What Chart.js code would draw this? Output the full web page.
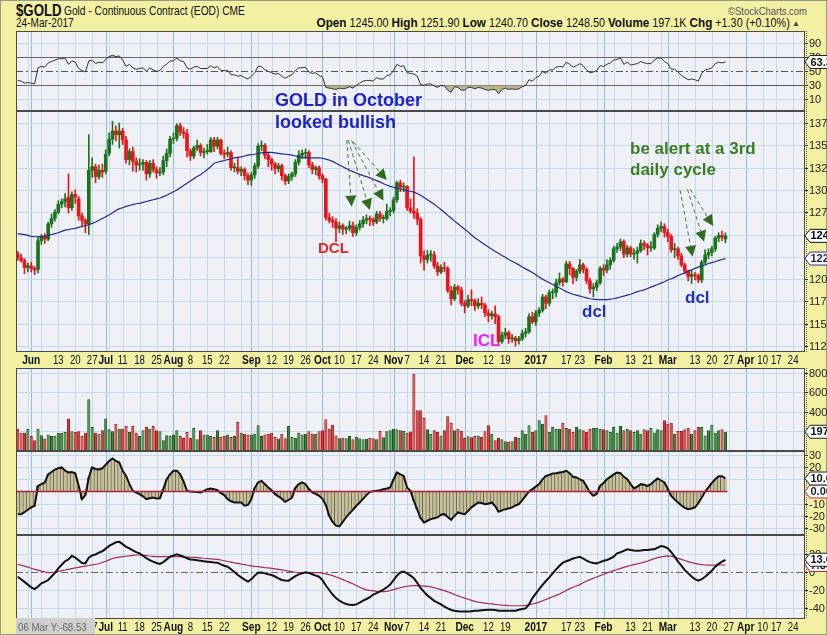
<!DOCTYPE html>
<html>
<head>
<meta charset="utf-8">
<script src="https://cdn.jsdelivr.net/npm/chart.js@4.4.1/dist/chart.umd.min.js"></script>
<style>
  body { margin: 0; width: 827px; height: 635px; overflow: hidden; position: relative; background: #f3efa3; box-shadow: inset 0 0 0 1px #9a9a80; }
  canvas { position: absolute; left: 0; }
  .t { position: absolute; white-space: nowrap; font-family: 'Liberation Sans', Arial, sans-serif; color: #111; transform-origin: 0 50%; }
  .n { position: absolute; white-space: nowrap; font-family: 'Liberation Sans', Arial, sans-serif; font-weight: bold; }
</style>
</head>
<body>
<canvas id="rsi" width="827" height="80" style="top:31px"></canvas>
<canvas id="price" width="827" height="257" style="top:111px"></canvas>
<canvas id="vol" width="827" height="83" style="top:368px"></canvas>
<canvas id="osc" width="827" height="84" style="top:451px"></canvas>
<canvas id="tsi" width="827" height="100" style="top:535px"></canvas>

<div class="t" style="left:16px;top:1px;font-size:17px;font-weight:bold;transform:scaleX(0.78);">$GOLD</div>
<div class="t" style="left:64px;top:4px;font-size:12px;transform:scaleX(0.85);">Gold - Continuous Contract (EOD) CME</div>
<div class="t" style="left:728px;top:5px;font-size:11px;color:#555;transform:scaleX(0.86);">&copy;StockCharts.com</div>
<div class="t" style="left:16px;top:16px;font-size:12px;transform:scaleX(0.84);">24-Mar-2017</div>
<div class="t" style="right:37px;top:15px;font-size:12px;transform:scaleX(0.9);transform-origin:100% 50%;"><b style="font-size:13px">Open</b> 1245.00 <b style="font-size:13px">High</b> 1251.90 <b style="font-size:13px">Low</b> 1240.70 <b style="font-size:13px">Close</b> 1248.50 <b style="font-size:13px">Volume</b> 197.1K <b style="font-size:13px">Chg</b> +1.30 (+0.10%)</div>
<div class="t" style="left:792px;top:19px;font-size:8px;color:#444;">&#9650;</div>

<div class="n" style="left:275px;top:90px;font-size:18px;color:#1f22c9;">GOLD in October</div>
<div class="n" style="left:275px;top:112px;font-size:18px;color:#1f22c9;">looked bullish</div>
<div class="n" style="left:318px;top:239px;font-size:15px;color:#e3262a;">DCL</div>
<div class="n" style="left:473px;top:331px;font-size:17px;color:#ee22ee;">ICL</div>
<div class="n" style="left:582px;top:302px;font-size:17px;color:#1f2fc0;">dcl</div>
<div class="n" style="left:685px;top:288px;font-size:17px;color:#1f2fc0;">dcl</div>
<div class="n" style="left:630px;top:139px;font-size:17px;color:#3b7d23;">be alert at a 3rd</div>
<div class="n" style="left:630px;top:160px;font-size:17px;color:#3b7d23;">daily cycle</div>

<div style="position:absolute;left:16px;top:618px;width:79px;height:16px;background:#cfcfcf;"></div>
<div class="t" style="left:18px;top:619px;font-size:11px;line-height:16px;color:#666;transform:scaleX(0.88);">06 Mar Y:-68.53</div>

<script>
// trading-day axis: 2016-05-25 onward, weekends and exchange holidays skipped
const holidays = ['2016-05-30', '2016-07-04', '2016-09-05', '2016-11-24', '2016-12-26',
                  '2017-01-02', '2017-01-16', '2017-02-20', '2017-04-14'];
const slotCount = 233;

const tickDates = ['2016-06-01', '2016-06-13', '2016-06-20', '2016-06-27', '2016-07-01', '2016-07-11', '2016-07-18', '2016-07-25',
  '2016-08-01', '2016-08-08', '2016-08-15', '2016-08-22', '2016-09-01', '2016-09-12', '2016-09-19', '2016-09-26',
  '2016-10-03', '2016-10-10', '2016-10-17', '2016-10-24', '2016-11-01', '2016-11-07', '2016-11-14', '2016-11-21',
  '2016-12-01', '2016-12-12', '2016-12-19', '2017-01-03', '2017-01-17', '2017-01-23', '2017-02-01', '2017-02-13',
  '2017-02-21', '2017-03-01', '2017-03-13', '2017-03-20', '2017-03-27', '2017-04-03', '2017-04-10', '2017-04-17', '2017-04-24'];
const tickLabels = ['Jun', '13', '20', '27', 'Jul', '11', '18', '25', 'Aug', '8', '15', '22', 'Sep', '12', '19', '26',
  'Oct', '10', '17', '24', 'Nov', '7', '14', '21', 'Dec', '12', '19', '2017', '17', '23', 'Feb', '13',
  '21', 'Mar', '13', '20', '27', 'Apr', '10', '17', '24'];

const opens = [1229,1224,1221,1213,1215,1212,1211,1243,1247,1245,
  1262,1268,1275,1284,1287,1292,1280,1295,1290,1271,
  1266,1262,1322,1326,1315,1322,1321,1341,1357,1366,
  1362,1366,1356,1334,1343,1332,1328,1329,1331,1318,
  1330,1323,1319,1320,1333,1341,1357,1358,1372,1365,
  1363,1344,1338,1347,1350,1342,1343,1343,1356,1349,
  1356,1341,1340,1342,1325,1325,1321,1323,1316,1311,
  1317,1327,1349,1350,1339,1334,1329,1324,1327,1316,
  1310,1315,1318,1331,1339,1341,1342,1328,1323,1325,
  1316,1312,1269,1266,1264,1257,1260,1256,1257,1260,
  1252,1258,1262,1266,1268,1267,1264,1273,1268,1268,
  1276,1277,1289,1308,1303,1304,1280,1276,1274,1267,
  1226,1222,1227,1227,1215,1208,1213,1212,1187,1178,
  1191,1188,1173,1170,1177,1176,1170,1173,1171,1162,
  1159,1161,1158,1130,1137,1140,1133,1134,1131,1133,
  1139,1141,1158,1152,1162,1165,1180,1173,1185,1185,
  1196,1200,1197,1217,1212,1202,1209,1216,1211,1198,
  1189,1191,1196,1212,1210,1216,1221,1234,1236,1242,
  1228,1235,1228,1229,1232,1240,1238,1235,1235,1250,
  1257,1259,1252,1248,1233,1234,1226,1216,1209,1203,
  1205,1204,1199,1219,1227,1230,1234,1246,1249,1245];
const highs = [1231,1228,1223,1218,1219,1214,1247,1250,1251,1264,
  1273,1278,1288,1290,1296,1318,1298,1300,1293,1274,
  1268,1362,1336,1329,1328,1329,1345,1364,1377,1372,
  1375,1369,1360,1346,1348,1336,1335,1334,1333,1333,
  1334,1326,1325,1338,1346,1360,1364,1374,1375,1370,
  1368,1346,1349,1356,1352,1347,1351,1359,1359,1359,
  1357,1345,1348,1344,1330,1336,1326,1325,1319,1320,
  1330,1352,1355,1352,1342,1336,1331,1330,1329,1318,
  1318,1320,1334,1344,1345,1346,1344,1331,1327,1327,
  1318,1313,1274,1270,1268,1264,1262,1259,1265,1264,
  1261,1266,1270,1272,1271,1269,1276,1276,1272,1284,
  1280,1292,1310,1311,1308,1305,1290,1337,1279,1269,
  1232,1232,1232,1231,1219,1216,1219,1214,1192,1194,
  1193,1191,1176,1182,1188,1178,1178,1180,1173,1166,
  1164,1170,1160,1141,1145,1142,1138,1136,1136,1143,
  1145,1161,1163,1165,1168,1183,1182,1188,1189,1200,
  1207,1202,1220,1220,1213,1211,1222,1218,1213,1201,
  1195,1199,1214,1216,1222,1224,1237,1240,1245,1244,
  1238,1237,1234,1236,1244,1243,1240,1242,1252,1261,
  1264,1262,1256,1250,1240,1236,1229,1218,1210,1210,
  1208,1206,1221,1233,1234,1237,1248,1252,1254,1251.9];
const lows = [1221,1219,1206,1208,1208,1205,1207,1239,1240,1243,
  1258,1265,1273,1280,1281,1274,1277,1285,1266,1260,
  1252,1250,1314,1308,1312,1314,1318,1338,1351,1355,
  1347,1351,1330,1328,1321,1320,1322,1322,1311,1314,
  1320,1313,1316,1317,1326,1337,1352,1355,1361,1358,
  1337,1333,1335,1344,1338,1336,1340,1342,1343,1346,
  1339,1335,1337,1322,1320,1318,1316,1311,1306,1305,
  1313,1324,1344,1335,1326,1322,1318,1320,1311,1306,
  1307,1311,1315,1328,1335,1335,1325,1318,1317,1312,
  1308,1266,1263,1258,1242,1252,1250,1251,1254,1248,
  1249,1255,1258,1262,1260,1260,1262,1265,1263,1266,
  1271,1274,1286,1298,1298,1277,1274,1268,1261,1218,
  1210,1218,1220,1212,1204,1206,1208,1185,1171,1176,
  1183,1170,1162,1168,1170,1165,1167,1167,1158,1152,
  1155,1150,1126,1128,1133,1128,1129,1125,1127,1131,
  1135,1139,1150,1148,1158,1163,1167,1170,1178,1180,
  1193,1192,1196,1205,1195,1198,1206,1207,1195,1184,
  1180,1187,1194,1204,1207,1211,1219,1230,1232,1224,
  1225,1225,1222,1218,1230,1233,1227,1231,1233,1247,
  1253,1247,1242,1230,1224,1222,1214,1206,1198,1195,
  1199,1196,1196,1217,1223,1226,1231,1242,1243,1240.7];
const closes = [1224,1221,1213,1215,1212,1210,1243,1247,1245,1262,
  1268,1275,1284,1287,1290,1280,1295,1292,1271,1266,
  1262,1322,1326,1315,1322,1320,1340,1357,1366,1362,
  1366,1356,1334,1343,1332,1328,1329,1331,1318,1330,
  1323,1319,1320,1333,1341,1357,1358,1372,1365,1363,
  1344,1338,1347,1350,1342,1343,1343,1356,1349,1356,
  1341,1340,1342,1325,1325,1321,1323,1316,1311,1317,
  1327,1349,1350,1339,1334,1329,1324,1327,1316,1310,
  1315,1318,1331,1339,1341,1342,1328,1323,1325,1316,
  1312,1269,1266,1264,1257,1260,1256,1257,1260,1252,
  1258,1262,1266,1268,1267,1264,1273,1268,1268,1276,
  1277,1289,1308,1303,1304,1280,1276,1274,1267,1226,
  1222,1227,1227,1215,1208,1213,1212,1187,1178,1191,
  1188,1173,1170,1177,1176,1170,1173,1171,1162,1159,
  1161,1158,1130,1137,1140,1133,1134,1131,1133,1139,
  1141,1158,1152,1162,1165,1180,1173,1185,1185,1196,
  1200,1197,1217,1212,1202,1209,1216,1211,1198,1189,
  1191,1196,1212,1210,1216,1221,1234,1236,1242,1228,
  1235,1228,1229,1232,1240,1238,1235,1235,1250,1257,
  1259,1252,1248,1233,1234,1226,1216,1209,1203,1205,
  1204,1199,1219,1227,1230,1234,1246,1249,1247.2,1248.5];
const ma50 = [1251,1250.5,1250,1249,1248,1247.5,1247.5,1248,1248,1249,
  1250,1251,1252,1253.5,1255,1255.5,1256.5,1257,1258,1259,
  1260,1261,1262.5,1264,1266,1268,1270,1272,1274.5,1277,
  1279,1280,1281.5,1282.5,1283.5,1284.5,1285,1286,1287,1288,
  1289,1290,1291,1292.5,1294,1296,1298,1300,1302.5,1305,
  1307.5,1310,1312.5,1315,1317,1320,1323,1326,1330,1331,
  1332,1333,1334,1335,1336,1336.5,1337,1338,1339,1339.5,
  1340,1341,1341.5,1342,1342,1342,1341.5,1341,1340.5,1340,
  1339.5,1339,1338,1337,1336.5,1336.5,1336,1336,1336,1336,
  1335.5,1334.5,1333.5,1332,1330,1328,1326,1324,1322,1320.5,
  1319,1317.5,1316,1315,1313.5,1312,1310.5,1309,1307,1305.5,
  1304,1303,1302,1301,1300,1299,1298.5,1297.5,1296,1294,
  1291.5,1289,1286.5,1284,1281,1278,1275,1271.5,1268.5,1265,
  1262,1259,1256,1253,1249.5,1246.5,1244,1241,1238.5,1236,
  1233.5,1231,1229,1226.5,1224.5,1222,1220,1218,1216,1213.5,
  1211.5,1209.5,1207.5,1205,1202.5,1200,1198,1196,1194,1192,
  1190,1188,1186,1184.5,1183,1182,1181,1180,1179,1178,
  1177.5,1177,1177,1177,1177,1177.5,1178,1179,1180,1181,
  1182,1183,1184.5,1186,1187,1188,1189.5,1191,1192.5,1194,
  1195.5,1197,1199,1200.5,1202,1204,1205.5,1207,1209,1210.5,
  1212,1213.5,1215,1216,1217.5,1218.5,1219.5,1221,1222,1223.07];
// volume in thousands
const volumes = [229,188,188,229,154,109,229,161,127,168,
  154,154,188,188,195,332,202,195,202,154,
  188,530,246,188,178,212,332,222,202,280,
  229,229,256,195,256,188,154,212,246,229,
  256,212,202,109,161,154,168,212,154,133,
  195,133,236,120,212,168,168,154,144,212,
  144,154,170,144,154,298,188,178,168,168,
  178,263,154,168,178,188,144,127,178,130,
  256,144,133,188,168,178,202,178,178,202,
  212,325,229,270,160,130,135,130,154,120,
  144,130,120,125,133,130,120,205,140,202,
  212,229,222,212,205,188,200,793,417,417,
  338,222,178,212,195,160,212,356,287,212,
  229,205,133,150,140,154,160,144,202,263,
  178,110,133,120,100,92,100,144,133,212,
  178,263,195,212,315,280,366,195,246,229,
  229,290,236,229,195,246,222,212,195,229,
  236,236,229,222,212,195,246,188,256,212,
  229,212,195,212,178,222,212,236,190,222,
  212,315,280,290,178,205,205,222,236,178,
  212,246,246,160,212,270,188,212,222,197.1];
const rsi14 = [37,36,33,34,33,32,55,57,56,62,
  64,66,68,68,69,60,65,63,54,51,
  49,65,66,61,63,62,67,71,73,71,
  72,66,57,60,55,53,54,55,50,55,
  52,50,51,57,60,65,65,69,65,64,
  55,53,56,57,54,54,54,58,55,57,
  51,51,51,45,45,43,44,41,39,43,
  48,57,57,52,50,48,46,47,43,40,
  43,45,51,55,55,56,49,47,48,44,
  42,27,26,25,24,26,25,26,28,26,
  30,33,36,37,37,36,41,39,39,44,
  45,51,60,57,58,48,47,46,43,31,
  30,32,32,29,27,30,29,23,20,28,
  27,23,23,27,27,25,27,26,24,23,
  24,24,18,24,26,24,25,24,25,28,
  30,38,36,41,43,50,47,52,52,56,
  57,56,63,60,56,58,61,58,52,48,
  49,51,58,57,60,62,66,67,69,60,
  63,59,60,61,64,62,61,61,66,69,
  69,64,61,53,53,49,44,41,38,39,
  38,36,47,52,53,55,61,63,62,63.34];
const osc = [-18.6,-18.6,-17,-15,-13,-11.7,4.6,6,7.4,14,
  16,18,19,19.7,17,15.6,16,15,4.6,-6.3,
  -3,11.5,19.7,18.5,18,19,22,25,27,25,
  23.8,17,12.8,6,0.5,-1,-2.2,-4,-6.3,-5.5,
  -5,-5.7,-5.5,1.9,10,14,17,17,14,8,
  0.5,0,-0.3,-0.5,-0.8,0.5,1.9,2.5,1.9,1,
  -1.4,-3,-6.3,-8,-9,-9,-9,-11.7,-11,-6.3,
  3,7.4,8.7,6,3.3,1,-2.2,-4,-6,-8.5,
  -7,-5,3,6,7.4,6,2,-0.8,-2,-3.6,
  -6,-11,-20,-25,-28,-28.7,-25,-21,-18,-15,
  -11.7,-9,-6,-3,-0.3,0.2,0.5,1,1.9,2.5,
  3.3,10,15.6,14,12.8,3,0.5,-7.7,-15,-22,
  -25.4,-24,-22.7,-22,-21.3,-19,-18.6,-21,-23.2,-20,
  -17.2,-18,-18.6,-16,-13,-11,-9,-9.5,-10.4,-10,
  -9,-12,-16.7,-15.5,-14.5,-14,-13,-11.5,-10.4,-7,
  -3.6,0,1.9,4,6,10,12.8,13.5,14.8,15,
  15.6,16,17,15,12,11.5,10,8.7,4,-0.8,
  -3.6,-2,4.6,7,10,12,14,15.6,15,12,
  10,6,2.5,4,6,5.5,4.6,6,8.5,10.7,
  9,7.4,2,-3.6,-6.5,-9,-11.5,-13.5,-14.5,-14,
  -13,-9.5,-5,0,3.3,7,10,12.5,12.5,10.63];
const tsi = [-5.2,-8,-11,-14,-17,-19,-16,-12.6,-11,-8.9,
  -5,-1,4,8,12,14,18,16,13,10,
  9.6,16,18.5,19.5,21.5,23,26,29,31,33,
  33.5,31,28,26.3,24,22,20.7,18,15.5,13.3,
  11.5,10,8.9,11,14,17,18.5,19.6,18.5,17,
  15.2,14,13.5,13,12.6,12,11.5,11,10.5,10.4,
  8.5,7,5.9,3,0,-3.3,-6,-8.5,-10.7,-8,
  -4,-0.7,-0.5,-1.5,-2.5,-3.3,-5,-7,-8.9,-9.5,
  -9.6,-7,-4.5,-2.6,-1.5,-0.4,-1,-2.5,-4,-5.2,
  -9,-15,-20,-25,-29,-31.9,-34,-35.5,-36.5,-36.7,
  -36,-34,-31.9,-30,-28,-25,-23.5,-21.5,-19.5,-17,
  -14,-9,-4,-0.5,0.4,-1.5,-4,-7,-12,-18,
  -22,-26,-29,-32,-34,-36,-38.5,-40.5,-42.2,-43,
  -43.5,-44,-44,-44,-43.5,-43,-43,-42.5,-42.2,-42,
  -42,-42.2,-43,-43,-43,-43,-43,-43,-42,-41,
  -40.4,-36,-29,-24,-19,-14.4,-10,-6,-1.5,3,
  7,10.4,12,13.3,15,16,17,15,12.6,11,
  10,9.6,11,12.5,13.3,15,17,20.7,22,23.5,
  25.2,24.5,24,23.7,24,24.5,24.5,25,25.2,27,
  28.9,28,26.3,22,17,11.5,7,2,-1.5,-5,
  -8,-9.6,-8,-5.2,-2,1.5,5.9,9,11.5,13.6];
const tsiSignal = [8.5,7.5,6.5,5.5,4.2,3,2,1,0,-0.7,
  -0.5,0,0.8,1.5,2.2,3,3.8,4.5,5.2,5.9,
  6.5,7.2,8,8.6,9.2,10.5,12,13.5,15,16,
  16.5,17,17.5,18,18.5,18.9,18.9,18.7,18.3,17.8,
  17.4,17,17,17,17,17,17,17,17,16.8,
  16.6,16.4,16.2,16,15.7,15.3,15,14.6,14.3,14,
  13.3,12.5,11.7,11,10.2,9.5,8.8,8.2,7.5,6.9,
  6.3,5.9,5.4,4.9,4.5,4,3.5,3,2.4,1.7,
  1,0.4,-0.3,-0.7,-0.7,-0.7,-0.7,-0.7,-0.7,-0.8,
  -1.2,-2,-3,-4,-5.5,-7,-8.5,-10,-11.5,-13,
  -15,-17,-18.5,-19.8,-20.5,-21,-21.5,-21.8,-21.9,-21.5,
  -20.5,-19.5,-18.5,-17.5,-16.5,-15.8,-15.3,-15.2,-15.2,-15.3,
  -15.6,-16,-16.5,-17.5,-18.5,-19.5,-20.7,-22,-23.5,-25,
  -26.5,-27.8,-29,-30.3,-31.5,-32.7,-33.5,-34,-34.6,-35.1,
  -35.5,-36,-36.4,-36.8,-37.1,-37.4,-37.5,-37.5,-37.5,-37.4,
  -37.2,-36.5,-35.5,-34.5,-33.5,-32,-30.5,-29,-27.5,-26,
  -24.5,-22.5,-20.5,-18.5,-17,-15.5,-14,-12,-10,-8.5,
  -7,-5.5,-4,-2.5,-1,0.2,1.5,2.8,4,5.2,
  6.2,7.2,8.2,9,10,11,12.2,13.5,14.8,16,
  16.8,17.4,17.8,17.5,16.5,15.2,14,12.8,11.6,10.5,
  9.5,8.7,8.2,7.8,7.6,7.6,7.7,7.8,7.8,7.8];

// hand-drawn arrows, [day, price]
const arrowStarts = [[97.2, 1355.9], [97.6, 1355.9], [98.6, 1355.2], [99.1, 1354], [195.6, 1299.9], [197.8, 1300.7], [198.6, 1300.7]];
const arrowEnds = [[98.6, 1281.2], [104.0, 1277.5], [108.0, 1287.9], [109.0, 1311.1], [199.3, 1225.1], [202.7, 1241.9], [205.4, 1259.5]];

const SANS = "'Liberation Sans', Arial, sans-serif";

function buildDays() {
  const out = [];
  const d = new Date(Date.UTC(2016, 4, 25));
  while (out.length < slotCount) {
    const wd = d.getUTCDay();
    const s = d.toISOString().slice(0, 10);
    if (wd !== 0 && wd !== 6 && !holidays.includes(s)) out.push(s);
    d.setUTCDate(d.getUTCDate() + 1);
  }
  return out;
}
const days = buildDays();

// 2 = first trading day of month, 1 = first trading day of week
const gridKind = days.map((s, i) => {
  if (i === 0) return 0;
  const a = new Date(days[i - 1] + 'T00:00:00Z'), b = new Date(s + 'T00:00:00Z');
  if (a.getUTCMonth() !== b.getUTCMonth()) return 2;
  if (b.getUTCDay() < a.getUTCDay()) return 1;
  return 0;
});

const upDay = closes.map((c, i) => c >= (i ? closes[i - 1] : opens[i]));
const candleColors = upDay.map(u => u ? '#1d731d' : '#e8161b');

const panelCfg = {};

function hline(ctx, x1, y1, x2, y2) {
  ctx.beginPath(); ctx.moveTo(x1, y1); ctx.lineTo(x2, y2); ctx.stroke();
}

// condensed text: squeeze horizontally around the anchor
function narrowText(ctx, text, x, y, sx) {
  ctx.save();
  ctx.translate(x, y);
  ctx.scale(sx, 1);
  ctx.fillText(text, 0, 0);
  ctx.restore();
}

function valueBox(ctx, y, text, stroke, color) {
  ctx.save();
  ctx.beginPath();
  ctx.moveTo(805, y); ctx.lineTo(810, y - 6.5); ctx.lineTo(832, y - 6.5); ctx.lineTo(832, y + 6.5); ctx.lineTo(810, y + 6.5);
  ctx.closePath();
  ctx.fillStyle = '#fff'; ctx.fill();
  ctx.strokeStyle = stroke; ctx.lineWidth = 1; ctx.stroke();
  ctx.fillStyle = color; ctx.font = 'bold 11px ' + SANS;
  ctx.textAlign = 'left'; ctx.textBaseline = 'middle';
  ctx.fillText(text, 810.5, y + 0.5);
  ctx.restore();
}

const panelPlugin = {
  id: 'panelDeco',
  beforeDraw(chart) {
    const { ctx, chartArea: a } = chart;
    ctx.save();
    ctx.fillStyle = '#eef0f6';
    ctx.fillRect(a.left, a.top, a.right - a.left, a.bottom - a.top);
    ctx.restore();
  },
  beforeDatasetsDraw(chart) {
    const cfg = panelCfg[chart.canvas.id];
    const { ctx, chartArea: a, scales: { x, y } } = chart;
    ctx.save();
    ctx.lineWidth = 1;
    gridKind.forEach((k, i) => {
      if (!k) return;
      const px = Math.round(x.getPixelForValue(i)) + 0.5;
      ctx.strokeStyle = k === 2 ? '#8fbde0' : '#c4dbec';
      hline(ctx, px, a.top, px, a.bottom);
    });
    ctx.strokeStyle = '#c4dbec';
    cfg.grid.forEach(v => {
      const py = Math.round(y.getPixelForValue(v)) + 0.5;
      hline(ctx, a.left, py, a.right, py);
    });
    (cfg.refsUnder || []).forEach(r => {
      const py = Math.round(y.getPixelForValue(r.v)) + 0.5;
      ctx.strokeStyle = r.color; ctx.lineWidth = r.width || 1;
      ctx.setLineDash(r.dash || []);
      hline(ctx, a.left, py, a.right, py);
    });
    ctx.restore();
  },
  afterDatasetsDraw(chart) {
    const cfg = panelCfg[chart.canvas.id];
    const { ctx, chartArea: a, scales: { x, y } } = chart;
    ctx.save();
    (cfg.refsOver || []).forEach(r => {
      const py = y.getPixelForValue(r.v);
      ctx.strokeStyle = r.color; ctx.lineWidth = r.width || 1;
      hline(ctx, a.left, py, x.getPixelForValue(closes.length - 1) + 2, py);
    });
    if (cfg.arrows) {
      const x0 = x.getPixelForValue(0), step = x.getPixelForValue(1) - x0;
      arrowStarts.forEach((s, i) => {
        const e = arrowEnds[i];
        const x1 = x0 + s[0] * step, x2 = x0 + e[0] * step;
        const y1 = y.getPixelForValue(s[1]), y2 = y.getPixelForValue(e[1]);
        const ang = Math.atan2(y2 - y1, x2 - x1);
        const L = 11, W = 5.5;
        const bx = x2 - L * Math.cos(ang), by = y2 - L * Math.sin(ang);
        ctx.strokeStyle = '#4a7a38'; ctx.lineWidth = 1; ctx.setLineDash([4, 3]);
        hline(ctx, x1, y1, bx, by);
        ctx.setLineDash([]);
        ctx.fillStyle = '#2f6a1f';
        ctx.beginPath();
        ctx.moveTo(x2, y2);
        ctx.lineTo(bx + W * Math.sin(ang), by - W * Math.cos(ang));
        ctx.lineTo(bx - W * Math.sin(ang), by + W * Math.cos(ang));
        ctx.closePath(); ctx.fill();
      });
    }
    ctx.restore();
  },
  afterDraw(chart) {
    const cfg = panelCfg[chart.canvas.id];
    const { ctx, chartArea: a, scales: { x, y } } = chart;
    ctx.save();
    ctx.strokeStyle = '#4a4a4a'; ctx.lineWidth = 1;
    ctx.strokeRect(a.left + 0.5, a.top + 0.5, a.right - a.left - 1, a.bottom - a.top - 1);
    ctx.setLineDash([1, 1]); ctx.strokeStyle = '#666';
    hline(ctx, a.right + 1.5, a.top, a.right + 1.5, a.bottom);
    ctx.setLineDash([]);
    // y tick labels (cut off by the canvas edge, as in the original)
    ctx.font = '11px ' + SANS; ctx.fillStyle = '#222';
    ctx.textAlign = 'left'; ctx.textBaseline = 'middle';
    ctx.strokeStyle = '#333';
    cfg.labels.forEach(v => {
      const py = Math.round(y.getPixelForValue(v)) + 0.5;
      hline(ctx, a.right, py, a.right + 3, py);
      ctx.fillText(String(v), a.right + 4, py + 0.5);
    });
    // x date labels under the panel
    if (cfg.xLabels) {
      ctx.textAlign = 'center';
      tickDates.forEach((d, i) => {
        const idx = days.indexOf(d);
        if (idx < 0) return;
        const lab = tickLabels[i];
        const big = isNaN(lab) || lab.length === 4;
        ctx.font = (big ? 'bold 13px ' : '12px ') + SANS;
        ctx.fillStyle = '#111';
        narrowText(ctx, lab, x.getPixelForValue(idx), a.bottom + 8.5, big ? 0.78 : 0.8);
      });
    }
    (cfg.boxes || []).forEach(b => valueBox(ctx, y.getPixelForValue(b.v), b.text, b.stroke, b.color));
    ctx.restore();
  }
};

function makeChart(id, datasets, yMin, yMax, bottomPad, cfg) {
  panelCfg[id] = cfg;
  return new Chart(document.getElementById(id), {
    type: 'bar',
    data: { labels: days, datasets },
    options: {
      responsive: false, animation: false, events: [],
      layout: { padding: { left: 16, right: 22, top: 0, bottom: bottomPad } },
      scales: {
        x: { type: 'category', display: false, offset: true },
        y: { display: false, min: yMin, max: yMax }
      },
      plugins: { legend: { display: false }, tooltip: { enabled: false } }
    },
    plugins: [panelPlugin]
  });
}

const last = closes.length - 1;
const khaki = '#b9b38f';

makeChart('rsi', [
  { type: 'line', data: rsi14, borderColor: '#333', borderWidth: 1, pointRadius: 0, order: 0,
    fill: { target: { value: 30 }, above: 'rgba(0,0,0,0)', below: khaki } },
  { type: 'line', data: rsi14, borderColor: 'rgba(0,0,0,0)', borderWidth: 0, pointRadius: 0, order: 1,
    fill: { target: { value: 70 }, above: khaki, below: 'rgba(0,0,0,0)' } }
], -6.7, 107.6, 0, {
  grid: [10, 90],
  labels: [90, 70, 50, 30, 10],
  refsUnder: [{ v: 70, color: '#555' }, { v: 30, color: '#555' }, { v: 50, color: '#555', dash: [7, 3, 2, 3] }],
  boxes: [{ v: rsi14[last], text: rsi14[last].toFixed(2), stroke: '#222', color: '#111' }]
});

makeChart('price', [
  { type: 'line', data: ma50, borderColor: '#26298a', borderWidth: 1.2, pointRadius: 0, order: 0 },
  { data: opens.map((o, i) => [o, closes[i]]), backgroundColor: candleColors, barThickness: 3, minBarLength: 1, grouped: false, order: 1 },
  { data: lows.map((l, i) => [l, highs[i]]), backgroundColor: candleColors, barThickness: 1, grouped: false, order: 2 }
], 1118.3, 1388.5, 16, {
  grid: [1125, 1150, 1175, 1200, 1225, 1250, 1275, 1300, 1325, 1350, 1375],
  labels: [1125, 1150, 1175, 1200, 1225, 1250, 1275, 1300, 1325, 1350, 1375],
  arrows: true,
  xLabels: true,
  boxes: [
    { v: ma50[last], text: ma50[last].toFixed(2), stroke: '#2b2f9a', color: '#22265a' },
    { v: closes[last], text: closes[last].toFixed(2), stroke: '#111', color: '#000' }
  ]
});

makeChart('vol', [
  { data: volumes, backgroundColor: upDay.map(u => u ? '#2e8b2e' : '#f22a2a'),
    borderColor: upDay.map(u => u ? '#1a4f1a' : '#8e1a1a'), borderWidth: 1, borderSkipped: false,
    barPercentage: 0.92, categoryPercentage: 1, grouped: false }
], 0, 851, 0, {
  grid: [200, 400, 600, 800],
  labels: [800, 600, 400],
  boxes: [{ v: volumes[last], text: String(Math.round(volumes[last] * 1000)), stroke: '#222', color: '#111' }]
});

makeChart('osc', [
  { type: 'line', data: osc, borderColor: '#111', borderWidth: 2, pointRadius: 0, order: 0 },
  { data: osc, backgroundColor: '#c8c29b', borderColor: '#6a6650',
    borderWidth: { left: 1, right: 0, top: 0, bottom: 0 }, borderSkipped: false,
    barPercentage: 1, categoryPercentage: 1, order: 1 }
], -35.7, 33.2, 0, {
  grid: [-30, -20, -10, 10, 20, 30],
  labels: [30, 20, 10, 0, -10, -20, -30],
  refsOver: [{ v: 0, color: '#b0203a', width: 1.5 }],
  boxes: [
    { v: 0, text: '0.00', stroke: '#c8203a', color: '#222' },
    { v: osc[last], text: osc[last].toFixed(2), stroke: '#222', color: '#111' }
  ]
});

makeChart('tsi', [
  { type: 'line', data: tsi, borderColor: '#111', borderWidth: 2, pointRadius: 0, order: 0 },
  { type: 'line', data: tsiSignal, borderColor: '#a3285c', borderWidth: 1.2, pointRadius: 0, order: 1 }
], -52.2, 41.1, 16, {
  grid: [-40, -20, 20],
  labels: [20, 0, -20, -40],
  refsUnder: [{ v: 0, color: '#666', dash: [7, 3, 2, 3] }],
  xLabels: true,
  boxes: [
    { v: tsiSignal[last], text: tsiSignal[last].toFixed(2), stroke: '#c8203a', color: '#222' },
    { v: tsi[last], text: tsi[last].toFixed(2), stroke: '#222', color: '#111' }
  ]
});
</script>
</body>
</html>
